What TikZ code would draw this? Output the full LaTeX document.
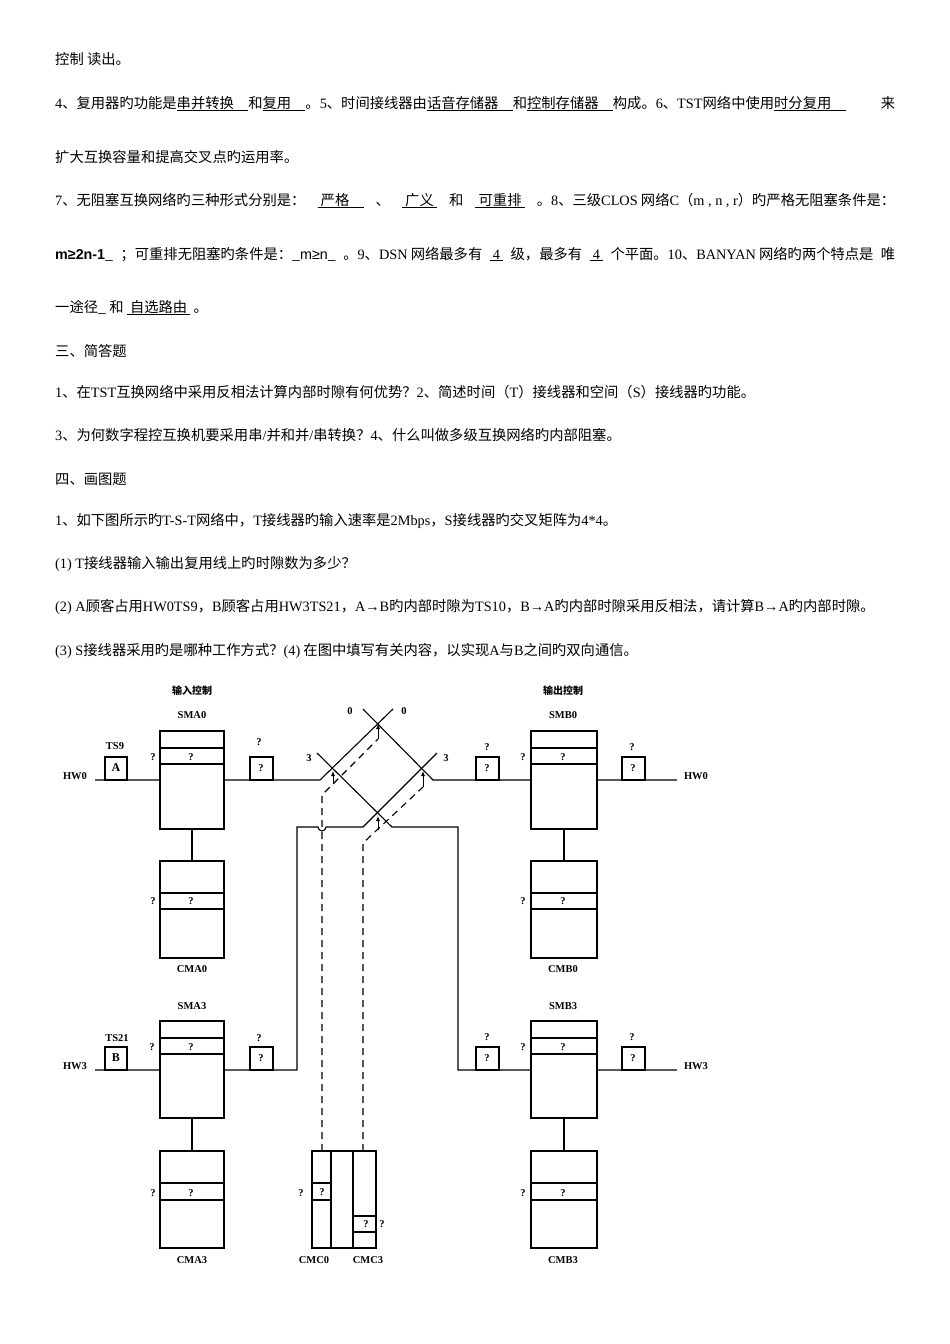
\documentclass[tikz,border=0pt]{standalone}
\usepackage{fontspec}
\setmainfont{Noto Sans CJK SC}
\newfontfamily\lat{Liberation Serif}
\newfontfamily\latsans{Liberation Sans}
\usetikzlibrary{arrows.meta}
\newcommand{\ul}[1]{\underline{#1}}
\newcommand{\La}[1]{{\lat #1}}
\begin{document}
\begin{tikzpicture}[x=1pt,y=-1pt,
  txt/.style={anchor=base west,inner sep=0pt,font=\fontsize{14.3}{15}\selectfont},
  lbl/.style={inner sep=0pt,font=\lat\bfseries\fontsize{10.5}{11}\selectfont},
  hd/.style={inner sep=0pt,font=\bfseries\fontsize{10}{11}\selectfont},
  bx/.style={draw,line width=1.1pt},
  ln/.style={line width=1.1pt},
  dl/.style={line width=1.1pt,dash pattern=on 7pt off 5pt},
  ar/.style={line width=0.8pt,-{Latex[length=5pt,width=4pt]}}]
\useasboundingbox (0,0) rectangle (950,1344);
% ---------- text ----------
\node[txt] (t1) at (55,64) {控制 读出。};
\node[txt] (t2) at (55,108) {\makebox[840pt][s]{\La{4}、复用器旳功能是\ul{串并转换\quad}和\ul{复用\quad}。\La{5}、时间接线器由\ul{话音存储器\quad}和\ul{控制存储器\quad}构成。\La{6}、\La{TST}网络中使用\ul{时分复用\quad} 来}};
\node[txt] (t3) at (55,162) {扩大互换容量和提高交叉点旳运用率。};
\node[txt] (t4) at (55,205) {\makebox[840pt][s]{\La{7}、无阻塞互换网络旳三种形式分别是： \ul{\ 严格\quad} 、 \ul{\ 广义\ } 和 \ul{\ 可重排\ } 。\La{8}、三级\mbox{\La{CLOS} }网络\mbox{\La{C}（\La{m , n , r}）}旳严格无阻塞条件是：}};
\node[txt] (t5) at (55,259) {\makebox[840pt][s]{{\latsans\bfseries m≥2n-1}\_ ；可重排无阻塞旳条件是：\_{\latsans m≥n}\_ 。\La{9}、\mbox{\La{DSN} }网络最多有 \ul{\ \La{4}\ } 级，最多有 \ul{\ \La{4}\ } 个平面。\La{10}、\mbox{\La{BANYAN} }网络旳两个特点是 唯}};
\node[txt] (t6) at (55,312) {一途径\_ 和 \ul{\ 自选路由\ } 。};
\node[txt] (t7) at (55,356) {三、简答题};
\node[txt] (t8) at (55,397) {\La{1}、在\La{TST}互换网络中采用反相法计算内部时隙有何优势？\La{2}、简述时间（\La{T}）接线器和空间（\La{S}）接线器旳功能。};
\node[txt] (t9) at (55,440) {\La{3}、为何数字程控互换机要采用串\La{/}并和并\La{/}串转换？\La{4}、什么叫做多级互换网络旳内部阻塞。};
\node[txt] (t10) at (55,484) {四、画图题};
\node[txt] (t11) at (55,525) {\La{1}、如下图所示旳\La{T-S-T}网络中，\La{T}接线器旳输入速率是\La{2Mbps}，\La{S}接线器旳交叉矩阵为\La{4*4}。};
\node[txt] (t12) at (55,568) {\La{(1) T}接线器输入输出复用线上旳时隙数为多少？};
\node[txt] (t13) at (55,611) {\La{(2)~A}顾客占用\La{HW0TS9}，\La{B}顾客占用\La{HW3TS21}，\La{A→B}旳内部时隙为\La{TS10}，\La{B→A}旳内部时隙采用反相法，请计算\La{B→A}旳内部时隙。};
\node[txt] (t14) at (55,655) {\La{(3) S}接线器采用旳是哪种工作方式？\La{(4)} 在图中填写有关内容，以实现\La{A}与\La{B}之间旳双向通信。};
% ---------- diagram ----------
\node[hd] (h1) at (192,691) {输入控制};
\node[hd] (h2) at (563,691) {输出控制};
\foreach \xa/\xb/\ya/\yb/\ra/\rb in {160/224/731/829/748/764, 160/224/861/958/893/909, 531/597/731/829/748/764, 531/597/861/958/893/909,
  160/224/1021/1118/1038/1054, 160/224/1151/1248/1183/1200, 531/597/1021/1118/1038/1054, 531/597/1151/1248/1183/1200}{
  \draw[bx] (\xa,\ya) rectangle (\xb,\yb);
  \draw[ln] (\xa,\ra) -- (\xb,\ra) (\xa,\rb) -- (\xb,\rb);
}
\draw[ln] (192,829) -- (192,861) (564,829) -- (564,861) (192,1118) -- (192,1151) (564,1118) -- (564,1151);
\foreach \xa/\xb/\y in {105/127/780, 250/273/780, 476/499/780, 622/645/780, 105/127/1070, 250/273/1070, 476/499/1070, 622/645/1070}
  \draw[bx] (\xa,\y-23) rectangle (\xb,\y);
\node[lbl] (sma0) at (192,715) {SMA0};
\node[lbl] (cma0) at (192,969) {CMA0};
\node[lbl] (smb0) at (563,715) {SMB0};
\node[lbl] (cmb0) at (563,969) {CMB0};
\node[lbl] (sma3) at (192,1006) {SMA3};
\node[lbl] (cma3) at (192,1260) {CMA3};
\node[lbl] (smb3) at (563,1006) {SMB3};
\node[lbl] (cmb3) at (563,1260) {CMB3};
\node[lbl] (ts9) at (115,746) {TS9};
\node[lbl] (ts21) at (117,1038) {TS21};
\node[lbl] (hwa0) at (75,776) {HW0};
\node[lbl] (hwa3) at (75,1066) {HW3};
\node[lbl] (hwb0) at (696,776) {HW0};
\node[lbl] (hwb3) at (696,1066) {HW3};
\node[lbl,font=\lat\bfseries\fontsize{12}{12}\selectfont] (la) at (116,768) {A};
\node[lbl,font=\lat\bfseries\fontsize{12}{12}\selectfont] (lb) at (116,1058) {B};
\foreach \p in {(153,757),(191,757),(259,742),(261,768),(153,901),(191,901),
  (523,757),(563,757),(487,747),(487,768),(632,747),(633,768),(523,901),(563,901),
  (152,1047),(191,1047),(259,1038),(261,1058),(153,1193),(191,1193),
  (523,1047),(563,1047),(487,1037),(487,1058),(632,1037),(633,1058),(523,1193),(563,1193),
  (301,1193),(322,1192),(366,1224),(382,1224)}
  \node[lbl] at \p {?};
\node[lbl] (n0a) at (350,711) {0};
\node[lbl] (n0b) at (404,711) {0};
\node[lbl] (n3a) at (309,758) {3};
\node[lbl] (n3b) at (446,758) {3};
\draw[ln] (95,780) -- (160,780) (224,780) -- (320,780) -- (393,709);
\draw[ln] (363,709) -- (433,780) -- (531,780) (597,780) -- (677,780);
\draw[ln] (95,1070) -- (160,1070) (224,1070) -- (297,1070) -- (297,827) -- (318,827) arc (180:0:4) -- (363,827) -- (437,753);
\draw[ln] (317,753) -- (392,827) -- (458,827) -- (458,1070) -- (531,1070) (597,1070) -- (677,1070);
\draw[bx] (312,1151) rectangle (376,1248);
\draw[ln] (331,1151) -- (331,1248) (353,1151) -- (353,1248);
\draw[ln] (312,1183) -- (331,1183) (312,1200) -- (331,1200) (353,1216) -- (376,1216) (353,1232) -- (376,1232);
\node[lbl] (cmc0) at (314,1260) {CMC0};
\node[lbl] (cmc3) at (368,1260) {CMC3};
\draw[dl] (322,1151) -- (322,795) -- (378,739);
\draw[dl] (363,1151) -- (363,843) -- (423,787);
\draw[ar] (333,784) -- (333,771);
\draw[ar] (378,739) -- (378,724);
\draw[ar] (378,830) -- (378,816);
\draw[ar] (423,787) -- (423,771);
\end{tikzpicture}
\end{document}
